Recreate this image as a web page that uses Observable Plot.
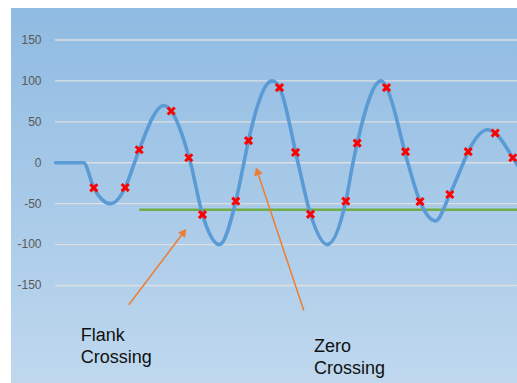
<!DOCTYPE html>
<html><head><meta charset="utf-8">
<script src="https://cdn.jsdelivr.net/npm/d3@7"></script>
<script src="https://cdn.jsdelivr.net/npm/@observablehq/plot@0.6"></script>
<style>
html,body{margin:0;padding:0;background:#fff;}
#wrap{position:absolute;left:11px;top:8px;width:506px;height:375px;background:linear-gradient(to bottom,#90bbe2,#bfd8ee);}
#wrap svg{display:block;}
</style></head><body><div id="wrap"></div>
<script>
// y-axis ticks
const yTicks = [-150, -100, -50, 0, 50, 100, 150];
// signal curve (time units, value)
const curveT = [0, 28, 38.3, 55, 69.7, 79, 83.7, 108.3, 115.7, 135, 147, 164, 180.3, 188.4, 193, 216.7, 224, 242.5, 255, 271.7, 290.3, 297.5, 301.7, 325.7, 331, 352.3, 364.5, 380, 394.3, 407.9, 412.7, 432.3, 439.7, 457.3, 462];
const curveV = [0, 0, -30.6, -50, -30.3, 0, 15.9, 70, 63.2, 0, -63.4, -100, -47, 0, 27, 100, 91.9, 0, -63, -100, -47, 0, 24, 100, 91.9, 0, -47.4, -71, -38.8, 0, 13.5, 40.4, 36.3, 6.1, -3];
// sampled points (red crosses)
const markerT = [38.3, 69.7, 83.7, 115.7, 133.3, 147, 180.3, 193, 224, 240, 255, 290.3, 301.7, 331, 350, 364.5, 394.3, 412.7, 439.7, 457.3];
const markerV = [-30.6, -30.3, 15.9, 63.2, 6.1, -63.4, -47, 27, 91.9, 12.6, -63, -47, 24, 91.9, 13.5, -47.4, -38.8, 13.5, 36.3, 6.1];
// threshold line
const thresholdValue = -57.5;
const thresholdStart = 84.3;
const timeEnd = 462;
// annotations
const annotationLabels = ["Flank\nCrossing", "Zero\nCrossing"];
const labelT = [25.3, 258.6];
const labelV = [-198.8, -212.3];
const arrowTailT = [73.3, 248.3];
const arrowTailV = [-173.6, -180.6];
const arrowTipT = [130.7, 200.5];
const arrowTipV = [-81, -5.8];

const W = 506, H = 375;
const base = {
  width: W, height: H,
  marginLeft: 44, marginRight: 0, marginTop: 31.5, marginBottom: 98,
  x: {domain: [0, timeEnd], axis: null},
  y: {domain: [-150, 150], axis: null},
  style: {background: "none", overflow: "visible"}
};
const probe = Plot.plot({...base, marks: []});
const sx = probe.scale("x"), sy = probe.scale("y");

const headR = 3.3;
const headBack = 2 * Math.sqrt(Math.PI * headR * headR / (Math.sqrt(3) * 3));
const arrows = annotationLabels.map((label, i) => {
  const x0 = sx.apply(arrowTailT[i]), y0 = sy.apply(arrowTailV[i]);
  const x1 = sx.apply(arrowTipT[i]), y1 = sy.apply(arrowTipV[i]);
  const dx = x1 - x0, dy = y1 - y0, len = Math.hypot(dx, dy);
  const ux = dx / len, uy = dy / len;
  return {
    tailT: arrowTailT[i], tailV: arrowTailV[i],
    shaftT: sx.invert(x1 - ux * 6), shaftV: sy.invert(y1 - uy * 6),
    headT: sx.invert(x1 - ux * headBack), headV: sy.invert(y1 - uy * headBack),
    angle: Math.atan2(dx, -dy) * 180 / Math.PI
  };
});

const curve = curveT.map((t, i) => ({t, v: curveV[i]}));
const markers = markerT.map((t, i) => ({t, v: markerV[i]}));
const labels = annotationLabels.map((text, i) => ({text, t: labelT[i], v: labelV[i]}));

const chart = Plot.plot({
  ...base,
  marks: [
    Plot.ruleY(yTicks, {stroke: "#dcdfe2", strokeWidth: 1.3}),
    Plot.axisY(yTicks, {tickSize: 0, tickPadding: 14, tickFormat: d => String(d), fontSize: 12, fill: "#595959", fontFamily: "Liberation Sans, Arial, sans-serif"}),
    Plot.ruleY([thresholdValue], {x1: thresholdStart, x2: timeEnd, stroke: "#70ad47", strokeWidth: 2.4}),
    Plot.line(curve, {x: "t", y: "v", curve: "monotone-x", stroke: "#5b9bd5", strokeWidth: 3.6, strokeLinejoin: "round"}),
    Plot.dot(markers, {x: "t", y: "v", symbol: "times", r: 3.3, stroke: "#ff0000", strokeWidth: 3}),
    Plot.link(arrows, {x1: "tailT", y1: "tailV", x2: "shaftT", y2: "shaftV", stroke: "#ed7d31", strokeWidth: 1.5}),
    Plot.dot(arrows, {x: "headT", y: "headV", symbol: "triangle", r: headR, fill: "#ed7d31", stroke: "none", rotate: "angle"}),
    Plot.text(labels, {x: "t", y: "v", text: "text", textAnchor: "start", lineAnchor: "top", lineHeight: 1.22, fontSize: 18, fill: "#111", fontFamily: "Liberation Sans, Arial, sans-serif"})
  ]
});
document.getElementById("wrap").appendChild(chart);
</script>
</body></html>
